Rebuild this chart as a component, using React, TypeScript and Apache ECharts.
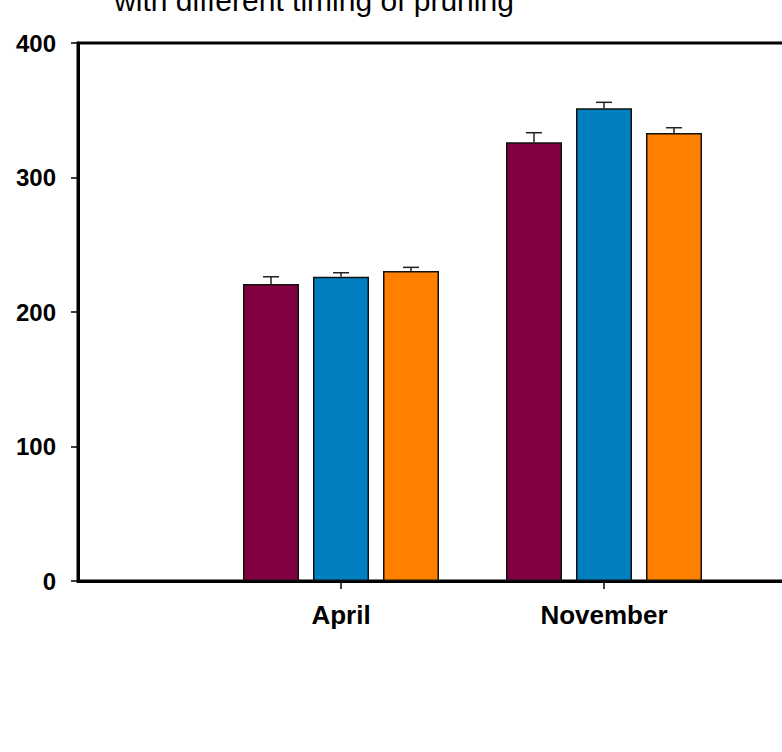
import React, { useEffect, useRef } from "react";
import * as echarts from "echarts";

const categories = ["", "April", "November", ""];
const seriesNames = ["Treatment 1", "Treatment 2", "Treatment 3"];
const seriesColors = ["#800040", "#0080C0", "#FF8000"];
const means = [
  [220.8, 326.2],
  [226.2, 351.4],
  [230.5, 333.1],
];
const errorTops = [
  [226.2, 333.3],
  [229.2, 355.9],
  [233.2, 337.0],
];
const yTicks = { min: 0, max: 400, interval: 100 };
const titleText = "with different timing of pruning";

const BAR_W = 56;
const BAR_STEP = 70;
const CANVAS_W = 880;

export default function App() {
  const ref = useRef<HTMLDivElement>(null);
  useEffect(() => {
    if (!ref.current) return;
    const chart = echarts.init(ref.current, null, { renderer: "svg" });
    const barSeries = seriesNames.map((name, j) => ({
      name,
      type: "bar",
      barWidth: BAR_W,
      barGap: "25%",
      data: ["-", means[j][0], means[j][1], "-"],
      itemStyle: { color: seriesColors[j], borderColor: "#111", borderWidth: 1.5 },
      z: 2,
    }));
    const errSeries = seriesNames.map((name, j) => ({
      name: name + " err",
      type: "custom",
      z: 3,
      data: [
        [1, means[j][0], errorTops[j][0]],
        [2, means[j][1], errorTops[j][1]],
      ],
      renderItem: (params: any, api: any) => {
        const c = api.value(0);
        const lo = api.coord([c, api.value(1)]);
        const hi = api.coord([c, api.value(2)]);
        const x = lo[0] + (j - 1) * BAR_STEP;
        const style = { stroke: "#222", lineWidth: 1.5 };
        return {
          type: "group",
          children: [
            { type: "line", shape: { x1: x, y1: lo[1], x2: x, y2: hi[1] }, style },
            { type: "line", shape: { x1: x - 8, y1: hi[1], x2: x + 8, y2: hi[1] }, style },
          ],
        };
      },
    }));
    chart.setOption({
      animation: false,
      graphic: [
        {
          type: "text",
          x: 314,
          y: 0,
          style: {
            text: titleText,
            font: "30px Arial, 'Liberation Sans', sans-serif",
            fill: "#000",
            align: "center",
            verticalAlign: "middle",
          },
        },
      ],
      grid: {
        left: 78,
        top: 43,
        right: CANVAS_W - 867,
        bottom: 171,
        show: true,
        borderColor: "#000",
        borderWidth: 3,
      },
      xAxis: {
        type: "category",
        data: categories,
        boundaryGap: false,
        axisLine: { lineStyle: { color: "#000", width: 3 } },
        axisTick: {
          length: 8,
          lineStyle: { color: "#000", width: 1.5 },
          interval: (i: number) => i === 1 || i === 2,
        },
        axisLabel: {
          color: "#000",
          fontFamily: "Arial, 'Liberation Sans', sans-serif",
          fontWeight: "bold",
          fontSize: 26,
          margin: 21,
        },
        splitLine: { show: false },
      },
      yAxis: {
        type: "value",
        min: yTicks.min,
        max: yTicks.max,
        interval: yTicks.interval,
        axisLine: { show: true, lineStyle: { color: "#000", width: 3 } },
        axisTick: { show: true, length: 7, lineStyle: { color: "#000", width: 1.5 } },
        axisLabel: {
          color: "#000",
          fontFamily: "Arial, 'Liberation Sans', sans-serif",
          fontWeight: "bold",
          fontSize: 24,
          margin: 22,
        },
        splitLine: { show: false },
      },
      series: [...barSeries, ...errSeries],
    });
    return () => chart.dispose();
  }, []);
  return (
    <div
      ref={ref}
      style={{ position: "fixed", left: 0, top: 0, width: CANVAS_W, height: 752, background: "#fff" }}
    />
  );
}
